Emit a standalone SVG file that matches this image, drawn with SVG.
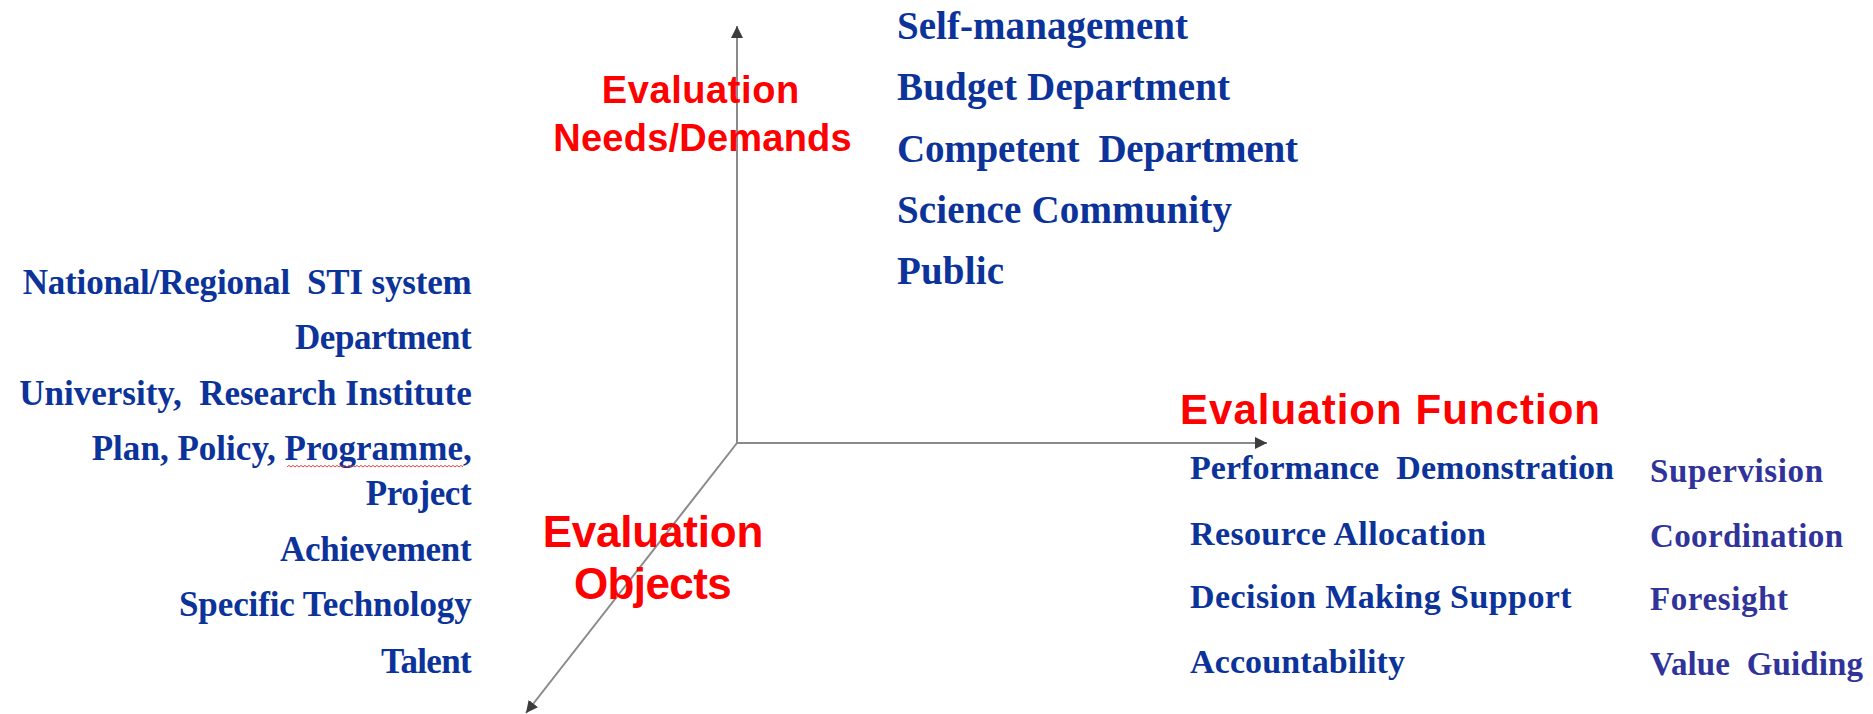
<svg xmlns="http://www.w3.org/2000/svg" width="1873" height="714" viewBox="0 0 1873 714">
<defs>
<style>
.b{font-family:"Liberation Serif","Times New Roman",serif;font-weight:bold;fill:#0b3399;}
.p{font-family:"Liberation Serif","Times New Roman",serif;font-weight:bold;fill:#30339a;}
.r{font-family:"Liberation Sans",Arial,sans-serif;font-weight:bold;fill:#ff0000;}
.ax{stroke:#8a8a8a;stroke-width:2;fill:none;}
</style>
<marker id="ah" markerUnits="userSpaceOnUse" markerWidth="14" markerHeight="12" refX="12" refY="6" orient="auto">
<path d="M0,0 L12,6 L0,12 Z" fill="#3c3c3c"/>
</marker>
</defs>
<rect x="0" y="0" width="1873" height="714" fill="#ffffff"/>

<g id="connectors">
<line class="ax" x1="737" y1="443" x2="737" y2="26" marker-end="url(#ah)"/>
<line class="ax" x1="737" y1="443" x2="1267" y2="443" marker-end="url(#ah)"/>
<line class="ax" x1="737" y1="443" x2="526" y2="713" marker-end="url(#ah)"/>
</g>

<g id="needs-label">
<text class="r" x="601.7" y="103.3" font-size="38" textLength="197.6">Evaluation</text>
<text class="r" x="553.3" y="151" font-size="38" textLength="298.4">Needs/Demands</text>
</g>

<g id="needs-list" font-size="39">
<text class="b" x="897" y="39" textLength="291">Self-management</text>
<text class="b" x="897" y="100.3" textLength="333">Budget Department</text>
<text class="b" x="897" y="161.6" textLength="401" xml:space="preserve">Competent  Department</text>
<text class="b" x="897" y="222.9" textLength="335">Science Community</text>
<text class="b" x="897" y="284.2" textLength="107">Public</text>
</g>

<g id="objects-list" font-size="35" text-anchor="end">
<text class="b" x="471.7" y="294" textLength="449" xml:space="preserve">National/Regional  STI system</text>
<text class="b" x="471.7" y="349" textLength="176.7">Department</text>
<text class="b" x="471.7" y="404.5" textLength="452.4" xml:space="preserve">University,  Research Institute</text>
<text class="b" x="471.7" y="460" textLength="380">Plan, Policy, Programme,</text>
<text class="b" x="471.7" y="505" textLength="106">Project</text>
<text class="b" x="471.7" y="560.7" textLength="191.7">Achievement</text>
<text class="b" x="471.7" y="616" textLength="292.7">Specific Technology</text>
<text class="b" x="471.7" y="672.7" textLength="90.7">Talent</text>
</g>
<path id="spell-squiggle" d="M287,467 l2,-1.6 l2,1.6 l2,-1.6 l2,1.6 l2,-1.6 l2,1.6 l2,-1.6 l2,1.6 l2,-1.6 l2,1.6 l2,-1.6 l2,1.6 l2,-1.6 l2,1.6 l2,-1.6 l2,1.6 l2,-1.6 l2,1.6 l2,-1.6 l2,1.6 l2,-1.6 l2,1.6 l2,-1.6 l2,1.6 l2,-1.6 l2,1.6 l2,-1.6 l2,1.6 l2,-1.6 l2,1.6 l2,-1.6 l2,1.6 l2,-1.6 l2,1.6 l2,-1.6 l2,1.6 l2,-1.6 l2,1.6 l2,-1.6 l2,1.6 l2,-1.6 l2,1.6 l2,-1.6 l2,1.6 l2,-1.6 l2,1.6 l2,-1.6 l2,1.6 l2,-1.6 l2,1.6 l2,-1.6 l2,1.6 l2,-1.6 l2,1.6 l2,-1.6 l2,1.6 l2,-1.6 l2,1.6 l2,-1.6 l2,1.6 l2,-1.6 l2,1.6 l2,-1.6 l2,1.6 l2,-1.6 l2,1.6 l2,-1.6 l2,1.6 l2,-1.6 l2,1.6 l2,-1.6 l2,1.6 l2,-1.6 l2,1.6 l2,-1.6 l2,1.6 l2,-1.6 l2,1.6 l2,-1.6 l2,1.6 l2,-1.6 l2,1.6 l2,-1.6 l2,1.6 l2,-1.6 l2,1.6 l2,-1.6 l2,1.6" fill="none" stroke="#e03030" stroke-width="0.9"/>

<g id="objects-label">
<text class="r" x="542.7" y="546.7" font-size="44" textLength="220.6">Evaluation</text>
<text class="r" x="574" y="599" font-size="44" textLength="157.7">Objects</text>
</g>

<g id="function-label">
<text class="r" x="1180" y="424.3" font-size="42" textLength="420">Evaluation Function</text>
</g>

<g id="function-list" font-size="34">
<text class="b" x="1190" y="479.3" textLength="424" xml:space="preserve">Performance  Demonstration</text>
<text class="b" x="1190" y="545" textLength="296">Resource Allocation</text>
<text class="b" x="1190" y="608.3" textLength="381.7">Decision Making Support</text>
<text class="b" x="1190" y="672.7" textLength="215">Accountability</text>
</g>

<g id="function-list-2" font-size="33">
<text class="p" x="1650" y="481.7" textLength="173">Supervision</text>
<text class="p" x="1650" y="546.7" textLength="193">Coordination</text>
<text class="p" x="1650" y="610" textLength="138">Foresight</text>
<text class="p" x="1650" y="675" textLength="213" xml:space="preserve">Value  Guiding</text>
</g>
</svg>
